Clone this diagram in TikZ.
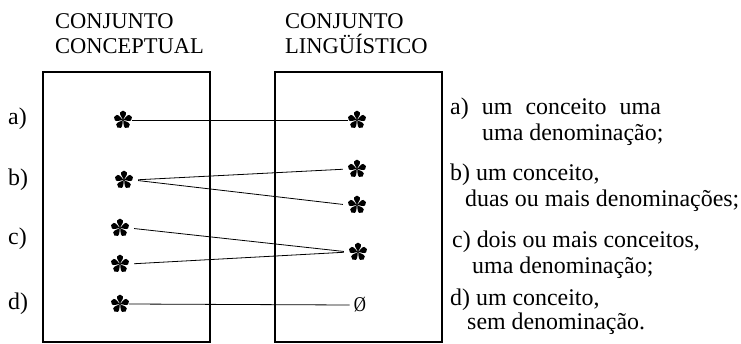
\documentclass[tikz,border=0pt]{standalone}
\usepackage{fontspec}
\setmainfont{Liberation Serif}
\newcommand\drawaster[1]{%
  \foreach \ang in {18,90,162,234,306}{%
    \fill[black, shift={(#1.center)}, rotate=\ang, scale=1.15]
      (0.3pt,0pt) .. controls (2.2pt,0.7pt) and (4.4pt,3.3pt) .. (6.6pt,2.5pt)
      .. controls (8.7pt,1.5pt) and (8.7pt,-1.5pt) .. (6.6pt,-2.5pt)
      .. controls (4.4pt,-3.3pt) and (2.2pt,-0.7pt) .. (0.3pt,0pt);}%
  \fill[black] (#1.center) circle (1.2pt);}
\begin{document}
\begin{tikzpicture}[x=1pt,y=-1pt,
  box/.style={draw, line width=1.8pt},
  txt/.style={anchor=base west, inner sep=0pt, font=\fontsize{23.9}{25}\selectfont},
  ttl/.style={anchor=base west, inner sep=0pt, font=\fontsize{22.5}{26}\selectfont},
  ast/.style={circle, minimum size=18pt, inner sep=0pt},
  empt/.style={inner xsep=4pt, inner ysep=0pt, font=\fontsize{21}{21}\selectfont},
  link/.style={line width=0.8pt},
  gap/.style={shorten <=5pt, shorten >=5pt}
]
\useasboundingbox (0,0) rectangle (741,343);

% titles
\node[ttl] (t1a) at (55,28) {CONJUNTO};
\node[ttl] (t1b) at (55,53) {CONCEPTUAL};
\node[ttl] (t2a) at (285,28) {CONJUNTO};
\node[ttl] (t2b) at (285,53) {LINGÜÍSTICO};

% boxes
\draw[box] (43,72) rectangle (210,342);
\draw[box] (275,72) rectangle (442,342);

% left labels
\node[txt] (la-l) at (8,124) {a)};
\node[txt] (lb-l) at (8,185) {b)};
\node[txt] (lc-l) at (8,244) {c)};
\node[txt] (ld-l) at (8,309) {d)};

% stars
\node[ast] (la) at (123,120) {};
\node[ast] (ra) at (357,120) {};
\node[ast] (lb) at (124,180) {};
\node[ast] (rb1) at (357,169) {};
\node[ast] (rb2) at (357,205) {};
\node[ast] (lc1) at (120,228) {};
\node[ast] (lc2) at (120,264) {};
\node[ast] (rc) at (358,252) {};
\node[ast] (ld) at (120,304) {};
\node[empt] (rd) at (360,305) {\scalebox{0.8}[1]{Ø}};
\drawaster{la}\drawaster{ra}\drawaster{lb}\drawaster{rb1}\drawaster{rb2}
\drawaster{lc1}\drawaster{lc2}\drawaster{rc}\drawaster{ld}

% connectors
\draw[link] (la.east) -- (ra.west);
\draw[link, gap] (lb.east) -- (rb1.west);
\draw[link, gap] (lb.east) -- (rb2.west);
\draw[link, gap] (lc1.east) -- (rc.west);
\draw[link, gap] (lc2.east) -- (rc.west);
\draw[link] (ld.east) -- (rd.west);

% right text
\node[txt] (da1) at (450,114) {a)\hspace{0.55em}um\hspace{0.55em}conceito\hspace{0.55em}uma};
\node[txt] (da2) at (482,140) {uma denominação;};
\node[txt] (db1) at (450,180) {b) um conceito,};
\node[txt] (db2) at (465,206) {duas ou mais denominações;};
\node[txt] (dc1) at (452,247) {c) dois ou mais conceitos,};
\node[txt] (dc2) at (472,273) {uma denominação;};
\node[txt] (dd1) at (450,305) {d) um conceito,};
\node[txt] (dd2) at (467,329) {sem denominação.};
\end{tikzpicture}
\end{document}
